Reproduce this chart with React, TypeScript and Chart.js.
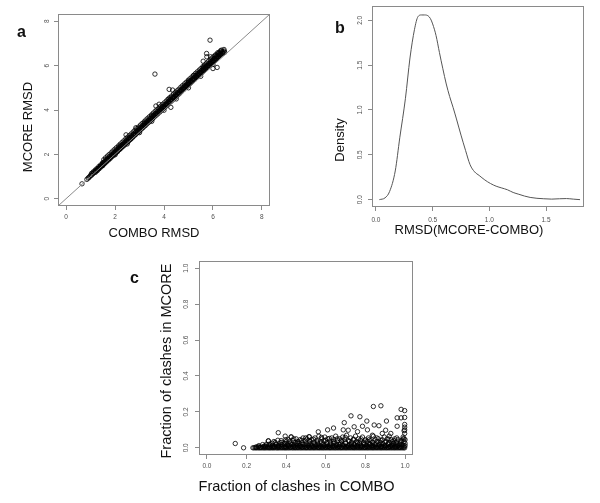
import React, { useEffect, useRef } from 'react';
import { Chart, registerables } from 'chart.js';
Chart.register(...registerables);

// ---------- Panel a: MCORE RMSD vs COMBO RMSD ----------
const aTicks = [0, 2, 4, 6, 8];
// [COMBO RMSD, MCORE RMSD]
const aBand: [number, number][] = [
  [0.65, 0.67], [0.85, 0.87], [0.9, 0.93], [0.93, 0.95], [0.97, 1.0], [1.0, 1.05], [1.04, 1.06], [1.08, 1.12],
  [1.1, 1.13], [1.14, 1.19], [1.17, 1.2], [1.2, 1.25], [1.23, 1.26], [1.26, 1.3], [1.3, 1.35], [1.33, 1.36],
  [1.36, 1.42], [1.4, 1.44], [1.43, 1.47], [1.46, 1.53], [1.5, 1.54], [1.53, 1.6], [1.56, 1.6], [1.6, 1.66],
  [1.63, 1.67], [1.66, 1.74], [1.7, 1.75], [1.73, 1.78], [1.76, 1.84], [1.8, 1.85], [1.83, 1.88], [1.86, 1.95],
  [1.9, 1.96], [1.93, 1.98], [1.96, 2.05], [2.0, 2.06], [2.03, 2.09], [2.06, 2.16], [2.1, 2.16], [2.13, 2.19],
  [2.16, 2.27], [2.2, 2.27], [2.23, 2.29], [2.26, 2.38], [2.3, 2.37], [2.33, 2.4], [2.36, 2.48], [2.4, 2.47],
  [2.43, 2.5], [2.46, 2.6], [2.5, 2.57], [2.53, 2.6], [2.56, 2.7], [2.6, 2.68], [2.63, 2.7], [2.66, 2.8],
  [2.7, 2.78], [2.73, 2.8], [2.76, 2.9], [2.8, 2.88], [2.83, 2.91], [2.86, 3.0], [2.9, 2.98], [2.93, 3.01],
  [2.96, 3.1], [3.0, 3.09], [3.03, 3.12], [3.06, 3.2], [3.1, 3.2], [3.13, 3.22], [3.16, 3.31], [3.2, 3.3],
  [3.23, 3.32], [3.26, 3.41], [3.3, 3.4], [3.33, 3.42], [3.36, 3.52], [3.4, 3.51], [3.43, 3.53], [3.46, 3.62],
  [3.5, 3.61], [3.53, 3.63], [3.56, 3.72], [3.6, 3.72], [3.63, 3.74], [3.66, 3.82], [3.7, 3.82], [3.73, 3.84],
  [3.76, 3.93], [3.8, 3.92], [3.83, 3.95], [3.86, 4.03], [3.9, 4.02], [3.93, 4.05], [3.96, 4.13], [4.0, 4.13],
  [4.03, 4.15], [4.06, 4.24], [4.1, 4.23], [4.13, 4.26], [4.16, 4.34], [4.2, 4.33], [4.23, 4.36], [4.26, 4.45],
  [4.3, 4.44], [4.33, 4.46], [4.36, 4.55], [4.4, 4.54], [4.43, 4.57], [4.46, 4.65], [4.5, 4.64], [4.53, 4.67],
  [4.56, 4.76], [4.6, 4.75], [4.63, 4.77], [4.66, 4.86], [4.7, 4.85], [4.73, 4.88], [4.76, 4.96], [4.8, 4.95],
  [4.83, 4.98], [4.86, 5.07], [4.9, 5.06], [4.93, 5.09], [4.96, 5.17], [5.0, 5.16], [5.03, 5.19], [5.06, 5.28],
  [5.1, 5.27], [5.13, 5.3], [5.16, 5.38], [5.2, 5.37], [5.23, 5.42], [5.26, 5.49], [5.3, 5.47], [5.33, 5.51],
  [5.36, 5.59], [5.4, 5.58], [5.43, 5.62], [5.46, 5.7], [5.5, 5.68], [5.53, 5.72], [5.56, 5.8], [5.6, 5.79],
  [5.63, 5.82], [5.66, 5.9], [5.7, 5.89], [5.73, 5.93], [5.76, 6.0], [5.8, 5.99], [5.83, 6.03], [5.86, 6.1],
  [5.9, 6.1], [5.93, 6.13], [5.96, 6.2], [6.0, 6.2], [6.03, 6.23], [6.06, 6.3], [6.1, 6.3], [6.13, 6.33],
  [6.16, 6.4], [6.2, 6.4], [6.23, 6.43], [6.26, 6.5], [6.3, 6.5], [6.33, 6.53], [6.38, 6.58], [6.42, 6.62],
  [6.46, 6.66],
  [1.5, 1.5], [2.0, 1.98], [2.5, 2.47], [3.0, 2.98], [3.5, 3.49], [4.0, 3.99], [4.5, 4.5], [5.0, 5.0],
  [5.5, 5.52], [6.0, 6.05], [1.5, 1.62], [2.2, 2.38], [3.2, 3.42], [3.5, 3.75], [4.2, 4.5], [5.0, 5.3],
  [5.6, 5.92], [6.25, 6.6], [6.35, 6.7], [6.1, 6.45], [6.4, 6.55], [6.48, 6.6],
];
// lower edge of the dense band
const aBandLow: [number, number][] = [
  [1.2, 1.19], [1.28, 1.27], [1.35, 1.35], [1.43, 1.43], [1.5, 1.5], [1.58, 1.59], [1.65, 1.66], [1.73, 1.74],
  [1.8, 1.81], [1.88, 1.9], [1.95, 1.97], [2.03, 2.05], [2.1, 2.12], [2.18, 2.21], [2.25, 2.28], [2.33, 2.36],
  [2.4, 2.43], [2.48, 2.52], [2.55, 2.59], [2.63, 2.67], [2.7, 2.74], [2.78, 2.83], [2.85, 2.9], [2.93, 2.98],
  [3.0, 3.05], [3.08, 3.14], [3.15, 3.21], [3.23, 3.29], [3.3, 3.37], [3.38, 3.45], [3.45, 3.52], [3.53, 3.6],
  [3.6, 3.68], [3.68, 3.76], [3.75, 3.83], [3.83, 3.91], [3.9, 3.99], [3.98, 4.07], [4.05, 4.14], [4.13, 4.22],
  [4.2, 4.3], [4.28, 4.38], [4.35, 4.45], [4.43, 4.53], [4.5, 4.61], [4.58, 4.69], [4.65, 4.76], [4.73, 4.85],
  [4.8, 4.92], [4.88, 5.0], [4.95, 5.07], [5.03, 5.16], [5.1, 5.23], [5.18, 5.31], [5.25, 5.38], [5.33, 5.47],
  [5.4, 5.54], [5.48, 5.62], [5.55, 5.69], [5.63, 5.78], [5.7, 5.85], [5.78, 5.93], [5.85, 6.0], [5.93, 6.09],
  [6.0, 6.16], [6.08, 6.24], [6.15, 6.31], [6.23, 6.4], [6.3, 6.47],
];
// middle of the dense band
const aBandMid: [number, number][] = [
  [1.04, 1.14], [1.11, 1.21], [1.19, 1.29], [1.26, 1.36], [1.34, 1.45], [1.41, 1.52], [1.49, 1.6], [1.56, 1.67],
  [1.64, 1.76], [1.71, 1.83], [1.79, 1.91], [1.86, 1.98], [1.94, 2.07], [2.01, 2.14], [2.09, 2.22], [2.16, 2.3],
  [2.24, 2.38], [2.31, 2.45], [2.39, 2.53], [2.46, 2.61], [2.54, 2.69], [2.61, 2.76], [2.69, 2.84], [2.76, 2.92],
  [2.84, 3.0], [2.91, 3.07], [2.99, 3.15], [3.06, 3.23], [3.14, 3.31], [3.21, 3.38], [3.29, 3.47], [3.36, 3.54],
  [3.44, 3.62], [3.51, 3.69], [3.59, 3.78], [3.66, 3.85], [3.74, 3.93], [3.81, 4.0], [3.89, 4.09], [3.96, 4.16],
  [4.04, 4.24], [4.11, 4.31], [4.19, 4.4], [4.26, 4.47], [4.34, 4.55], [4.41, 4.62], [4.49, 4.71], [4.56, 4.78],
  [4.64, 4.86], [4.71, 4.93], [4.79, 5.02], [4.86, 5.09], [4.94, 5.17], [5.01, 5.25], [5.09, 5.33], [5.16, 5.4],
  [5.24, 5.48], [5.31, 5.56], [5.39, 5.64], [5.46, 5.71], [5.54, 5.79], [5.61, 5.87], [5.69, 5.95], [5.76, 6.02],
  [5.84, 6.1], [5.91, 6.18], [5.99, 6.26], [6.06, 6.33], [6.14, 6.41], [6.21, 6.49], [6.29, 6.57], [6.36, 6.64],
];
// upper edge of the dense band
const aBandHigh: [number, number][] = [
  [1.54, 1.76], [1.61, 1.84], [1.69, 1.92], [1.76, 1.99], [1.84, 2.07], [1.91, 2.15], [1.99, 2.23], [2.06, 2.3],
  [2.14, 2.38], [2.21, 2.46], [2.29, 2.54], [2.36, 2.61], [2.44, 2.7], [2.51, 2.77], [2.59, 2.85], [2.66, 2.92],
  [2.74, 3.01], [2.81, 3.08], [2.89, 3.16], [2.96, 3.23], [3.04, 3.32], [3.11, 3.39], [3.19, 3.47], [3.26, 3.55],
  [3.34, 3.63], [3.41, 3.7], [3.49, 3.78], [3.56, 3.86], [3.64, 3.94], [3.71, 4.01], [3.79, 4.09], [3.86, 4.17],
  [3.94, 4.25], [4.01, 4.32], [4.09, 4.4], [4.16, 4.48], [4.24, 4.56], [4.31, 4.63], [4.39, 4.72], [4.46, 4.79],
  [4.54, 4.87], [4.61, 4.94], [4.69, 5.03], [4.76, 5.1], [4.84, 5.18], [4.91, 5.25], [4.99, 5.34], [5.06, 5.41],
  [5.14, 5.49], [5.21, 5.56], [5.29, 5.65], [5.36, 5.72], [5.44, 5.8], [5.51, 5.87], [5.59, 5.96], [5.66, 6.03],
  [5.74, 6.11], [5.81, 6.18], [5.89, 6.27], [5.96, 6.34], [6.04, 6.42], [6.11, 6.49], [6.19, 6.58],
];
const aOutliers: [number, number][] = [
  [5.88, 7.15], [3.63, 5.62], [5.74, 6.55], [5.9, 6.4], [6.17, 5.92], [6.0, 5.87], [6.31, 6.67],
  [6.45, 6.73], [4.21, 4.93], [4.35, 4.9], [4.28, 4.12], [3.67, 4.18], [3.8, 4.26], [2.45, 2.88],
  [2.85, 3.2], [5.6, 6.2], [5.75, 6.4], [5.22, 5.57], [6.22, 6.55],
];
const aLimits = [-0.33, 8.33];

// ---------- Panel b: density of RMSD(MCORE-COMBO) ----------
const bXTicks = [0, 0.5, 1.0, 1.5];
const bYTicks = [0, 0.5, 1.0, 1.5, 2.0];
const densityX = [0.03, 0.08, 0.12, 0.17, 0.21, 0.26, 0.30, 0.34, 0.37, 0.40, 0.43, 0.46, 0.48, 0.50, 0.53,
  0.56, 0.59, 0.62, 0.65, 0.68, 0.71, 0.75, 0.79, 0.83, 0.87, 0.91, 0.96, 1.01, 1.06, 1.11, 1.16, 1.21, 1.26,
  1.31, 1.36, 1.42, 1.48, 1.55, 1.62, 1.68, 1.74, 1.80];
const densityY = [0.00, 0.02, 0.09, 0.32, 0.69, 1.13, 1.58, 1.90, 2.04, 2.06, 2.06, 2.05, 2.02, 1.96, 1.83,
  1.64, 1.46, 1.29, 1.15, 1.03, 0.90, 0.72, 0.55, 0.39, 0.31, 0.27, 0.22, 0.18, 0.15, 0.13, 0.11, 0.08, 0.06,
  0.04, 0.025, 0.015, 0.01, 0.006, 0.01, 0.012, 0.006, 0.0];

// ---------- Panel c: fraction of clashes ----------
const cTicks = [0, 0.2, 0.4, 0.6, 0.8, 1.0];
const cZeroRowX = [0.185, 0.232, 0.245, 0.258, 0.27, 0.284, 0.296, 0.31, 0.322, 0.335, 0.35, 0.362, 0.376, 0.39,
  0.402, 0.415, 0.43, 0.443, 0.456, 0.47, 0.483, 0.497, 0.51, 0.523, 0.537, 0.55, 0.564, 0.577, 0.59, 0.604,
  0.618, 0.631, 0.645, 0.658, 0.672, 0.685, 0.699, 0.712, 0.726, 0.74, 0.753, 0.767, 0.78, 0.794, 0.808,
  0.821, 0.835, 0.848, 0.862, 0.876, 0.889, 0.903, 0.916, 0.93, 0.944, 0.957, 0.971, 0.985, 0.998];
const cZeroRowX2 = [0.238, 0.251, 0.264, 0.277, 0.29, 0.303, 0.316, 0.329, 0.342, 0.356, 0.369, 0.383, 0.396,
  0.409, 0.422, 0.436, 0.449, 0.463, 0.476, 0.49, 0.503, 0.517, 0.53, 0.543, 0.557, 0.57, 0.584, 0.597, 0.611,
  0.624, 0.638, 0.651, 0.665, 0.678, 0.692, 0.705, 0.719, 0.733, 0.746, 0.76, 0.773, 0.787, 0.801, 0.814,
  0.828, 0.841, 0.855, 0.869, 0.882, 0.896, 0.909, 0.923, 0.937, 0.95, 0.964, 0.978, 0.992];
// [COMBO, MCORE]
const cNearZero: [number, number][] = [
  [0.248, 0.005], [0.259, 0.007], [0.271, 0.004], [0.283, 0.006], [0.294, 0.008], [0.306, 0.005], [0.318, 0.007],
  [0.329, 0.004], [0.341, 0.006], [0.353, 0.008], [0.364, 0.005], [0.376, 0.007], [0.388, 0.004], [0.399, 0.006],
  [0.411, 0.008], [0.423, 0.005], [0.434, 0.007], [0.446, 0.004], [0.458, 0.006], [0.469, 0.008], [0.481, 0.005],
  [0.493, 0.007], [0.504, 0.004], [0.516, 0.006], [0.528, 0.008], [0.539, 0.005], [0.551, 0.007], [0.563, 0.004],
  [0.574, 0.006], [0.586, 0.008], [0.598, 0.005], [0.609, 0.007], [0.621, 0.004], [0.633, 0.006], [0.644, 0.008],
  [0.656, 0.005], [0.668, 0.007], [0.679, 0.004], [0.691, 0.006], [0.703, 0.008], [0.714, 0.005], [0.726, 0.007],
  [0.738, 0.004], [0.749, 0.006], [0.761, 0.008], [0.773, 0.005], [0.784, 0.007], [0.796, 0.004], [0.808, 0.006],
  [0.819, 0.008], [0.831, 0.005], [0.843, 0.007], [0.854, 0.004], [0.866, 0.006], [0.878, 0.008], [0.889, 0.005],
  [0.901, 0.007], [0.913, 0.004], [0.924, 0.006], [0.936, 0.008], [0.948, 0.005], [0.959, 0.007], [0.971, 0.004],
  [0.983, 0.006], [0.995, 0.008],
];
const cCluster: [number, number][] = [
  [0.29, 0.01], [0.3, 0.02], [0.31, 0.038], [0.32, 0.015], [0.33, 0.025], [0.335, 0.008], [0.345, 0.03],
  [0.35, 0.018], [0.36, 0.01], [0.37, 0.028], [0.375, 0.04], [0.38, 0.015], [0.39, 0.022], [0.395, 0.008],
  [0.4, 0.035], [0.405, 0.018], [0.41, 0.045], [0.415, 0.012], [0.42, 0.027], [0.425, 0.06], [0.43, 0.02],
  [0.435, 0.04], [0.44, 0.01], [0.445, 0.03], [0.45, 0.05], [0.455, 0.015], [0.46, 0.035], [0.465, 0.025],
  [0.47, 0.045], [0.475, 0.008], [0.48, 0.03], [0.485, 0.055], [0.49, 0.018], [0.495, 0.04], [0.5, 0.025],
  [0.505, 0.05], [0.51, 0.012], [0.515, 0.062], [0.52, 0.035], [0.525, 0.02], [0.53, 0.045], [0.535, 0.008],
  [0.54, 0.03], [0.545, 0.055], [0.55, 0.015], [0.555, 0.04], [0.56, 0.025], [0.565, 0.065], [0.57, 0.01],
  [0.575, 0.035], [0.58, 0.05], [0.585, 0.02], [0.59, 0.04], [0.595, 0.06], [0.6, 0.015], [0.605, 0.03],
  [0.61, 0.05], [0.615, 0.008], [0.62, 0.038], [0.625, 0.025], [0.63, 0.055], [0.635, 0.012], [0.64, 0.045],
  [0.645, 0.03], [0.65, 0.065], [0.655, 0.018], [0.66, 0.04], [0.665, 0.01], [0.67, 0.05], [0.675, 0.025],
  [0.68, 0.035], [0.685, 0.06], [0.69, 0.015], [0.695, 0.045], [0.7, 0.028], [0.705, 0.07], [0.71, 0.01],
  [0.715, 0.04], [0.72, 0.02], [0.725, 0.055], [0.73, 0.032], [0.735, 0.008], [0.74, 0.048], [0.745, 0.02],
  [0.75, 0.065], [0.755, 0.035], [0.76, 0.012], [0.765, 0.05], [0.77, 0.025], [0.775, 0.04], [0.78, 0.01],
  [0.785, 0.06], [0.79, 0.03], [0.795, 0.018], [0.8, 0.045], [0.805, 0.008], [0.81, 0.035], [0.815, 0.055],
  [0.82, 0.02], [0.825, 0.04], [0.83, 0.012], [0.835, 0.03], [0.84, 0.065], [0.845, 0.02], [0.85, 0.045],
  [0.855, 0.01], [0.86, 0.035], [0.865, 0.05], [0.87, 0.018], [0.875, 0.03], [0.88, 0.008], [0.885, 0.045],
  [0.89, 0.022], [0.895, 0.06], [0.9, 0.012], [0.905, 0.035], [0.91, 0.05], [0.915, 0.02], [0.92, 0.03],
  [0.925, 0.008], [0.93, 0.045], [0.935, 0.015], [0.94, 0.025], [0.945, 0.04], [0.95, 0.01], [0.955, 0.03],
  [0.96, 0.02], [0.965, 0.045], [0.97, 0.012], [0.975, 0.028], [0.98, 0.04], [0.985, 0.018], [0.99, 0.06],
  [0.995, 0.035], [1.0, 0.012], [1.0, 0.045], [1.0, 0.025], [0.998, 0.08], [0.998, 0.1], [0.998, 0.115],
  [0.998, 0.13],
];
const cClusterLow: [number, number][] = [
  [0.262, 0.012], [0.281, 0.018], [0.298, 0.01], [0.315, 0.02], [0.33, 0.013], [0.347, 0.022], [0.362, 0.012],
  [0.378, 0.018], [0.393, 0.025], [0.408, 0.012], [0.424, 0.02], [0.439, 0.015], [0.454, 0.024], [0.469, 0.012],
  [0.484, 0.02], [0.5, 0.014], [0.515, 0.025], [0.53, 0.012], [0.546, 0.02], [0.561, 0.015], [0.576, 0.026],
  [0.592, 0.012], [0.607, 0.022], [0.622, 0.015], [0.638, 0.025], [0.653, 0.012], [0.668, 0.02], [0.684, 0.016],
  [0.699, 0.026], [0.714, 0.012], [0.73, 0.02], [0.745, 0.015], [0.76, 0.025], [0.776, 0.012], [0.791, 0.022],
  [0.806, 0.015], [0.822, 0.024], [0.837, 0.012], [0.852, 0.02], [0.868, 0.015], [0.883, 0.025], [0.898, 0.012],
  [0.914, 0.022], [0.929, 0.015], [0.944, 0.024], [0.96, 0.012], [0.975, 0.02], [0.99, 0.015],
];
const cClusterMid: [number, number][] = [
  [0.338, 0.035], [0.358, 0.042], [0.378, 0.03], [0.398, 0.045], [0.418, 0.035], [0.438, 0.05], [0.458, 0.032],
  [0.478, 0.042], [0.498, 0.055], [0.518, 0.038], [0.538, 0.048], [0.558, 0.032], [0.578, 0.058], [0.598, 0.042],
  [0.618, 0.052], [0.638, 0.035], [0.658, 0.05], [0.678, 0.04], [0.698, 0.058], [0.718, 0.035], [0.738, 0.045],
  [0.758, 0.03], [0.778, 0.05], [0.798, 0.038], [0.818, 0.045], [0.838, 0.032], [0.858, 0.055], [0.878, 0.04],
  [0.898, 0.032], [0.918, 0.048], [0.938, 0.035], [0.958, 0.055], [0.978, 0.035], [0.995, 0.05],
];
const cOutliers: [number, number][] = [
  [0.143, 0.024], [0.36, 0.084], [0.31, 0.039], [0.395, 0.065], [0.425, 0.061], [0.562, 0.089], [0.609, 0.1],
  [0.639, 0.11], [0.693, 0.14], [0.727, 0.178], [0.772, 0.173], [0.84, 0.23], [0.878, 0.234], [0.807, 0.149],
  [0.906, 0.149], [0.96, 0.167], [0.98, 0.167], [0.98, 0.214], [0.998, 0.207], [0.998, 0.169], [0.995, 0.095],
  [0.844, 0.127], [0.868, 0.123], [0.785, 0.12], [0.81, 0.1], [0.743, 0.117], [0.688, 0.1], [0.713, 0.098],
  [0.902, 0.098], [0.928, 0.08], [0.96, 0.12], [0.948, 0.05], [0.99, 0.05], [0.885, 0.08], [0.835, 0.07],
  [0.517, 0.061], [0.76, 0.09], [0.92, 0.065],
];
const cLimits = [-0.04, 1.04];

// ---------- styling helpers ----------
const FONT = "'Liberation Sans', Arial, Helvetica, sans-serif";
const AXIS = '#8a8a8a';
const TICKTXT = '#505050';
const PT = 'rgba(0,0,0,0.9)';

type Lbl = { text: string; x: number; y: number; size: number; bold?: boolean; rot?: boolean };

const boxPlugin = {
  id: 'rbox',
  afterDatasetsDraw(chart: any) {
    const { ctx, chartArea: a } = chart;
    ctx.save();
    ctx.strokeStyle = AXIS;
    ctx.lineWidth = 1;
    ctx.strokeRect(Math.round(a.left) + 0.5, Math.round(a.top) + 0.5, Math.round(a.right - a.left) - 1, Math.round(a.bottom - a.top) - 1);
    ctx.restore();
  },
};

function textPlugin(items: Lbl[], ox: number, oy: number) {
  return {
    id: 'rtext',
    afterDraw(chart: any) {
      const ctx = chart.ctx;
      ctx.save();
      ctx.fillStyle = '#111';
      for (const it of items) {
        ctx.font = `${it.bold ? 'bold ' : ''}${it.size}px ${FONT}`;
        if (it.rot) {
          ctx.save();
          ctx.translate(it.x - ox, it.y - oy);
          ctx.rotate(-Math.PI / 2);
          ctx.textAlign = 'center';
          ctx.textBaseline = 'middle';
          ctx.fillText(it.text, 0, 0);
          ctx.restore();
        } else if (it.bold) {
          ctx.textAlign = 'left';
          ctx.textBaseline = 'alphabetic';
          ctx.fillText(it.text, it.x - ox, it.y - oy);
        } else {
          ctx.textAlign = 'center';
          ctx.textBaseline = 'middle';
          ctx.fillText(it.text, it.x - ox, it.y - oy);
        }
      }
      ctx.restore();
    },
  };
}

function xScale(min: number, max: number, ticks: number[], height: number, pad: number, fmt: (v: number) => string) {
  return {
    type: 'linear',
    position: 'bottom',
    min,
    max,
    afterBuildTicks: (s: any) => { s.ticks = ticks.map((v) => ({ value: v })); },
    afterFit: (s: any) => { s.height = height; s.paddingLeft = 0; s.paddingRight = 0; s.paddingTop = 0; s.paddingBottom = 0; },
    grid: { display: true, drawOnChartArea: false, drawTicks: true, tickLength: 4, color: AXIS, lineWidth: 1 },
    border: { display: false },
    ticks: { color: TICKTXT, font: { size: 6.5, family: FONT }, padding: pad, maxRotation: 0, minRotation: 0, autoSkip: false, callback: (v: any) => fmt(Number(v)) },
  };
}

function yScale(min: number, max: number, ticks: number[], width: number, pad: number, fmt: (v: number) => string) {
  return {
    type: 'linear',
    position: 'left',
    min,
    max,
    afterBuildTicks: (s: any) => { s.ticks = ticks.map((v) => ({ value: v })); },
    afterFit: (s: any) => { s.width = width; s.paddingLeft = 0; s.paddingRight = 0; s.paddingTop = 0; s.paddingBottom = 0; },
    grid: { display: true, drawOnChartArea: false, drawTicks: true, tickLength: 4, color: AXIS, lineWidth: 1 },
    border: { display: false },
    ticks: { color: TICKTXT, font: { size: 6.5, family: FONT }, padding: pad, minRotation: 90, maxRotation: 90, crossAlign: 'center', autoSkip: false, callback: (v: any) => fmt(Number(v)) },
  };
}

const scatterStyle = {
  pointRadius: 2.2,
  pointBorderWidth: 0.9,
  borderColor: PT,
  pointBorderColor: PT,
  backgroundColor: 'rgba(0,0,0,0)',
  pointBackgroundColor: 'rgba(0,0,0,0)',
  showLine: false,
};

const pairs = (arr: [number, number][]) => arr.map(([x, y]) => ({ x, y }));

function buildA(ox: number, oy: number) {
  return {
    type: 'scatter',
    data: {
      datasets: [
        {
          data: [{ x: aLimits[0], y: aLimits[0] }, { x: aLimits[1], y: aLimits[1] }],
          showLine: true, pointRadius: 0, borderColor: AXIS, borderWidth: 1,
        },
        { data: pairs(aBand), ...scatterStyle },
        { data: pairs(aBandLow), ...scatterStyle },
        { data: pairs(aBandMid), ...scatterStyle },
        { data: pairs(aBandHigh), ...scatterStyle },
        { data: pairs(aOutliers), ...scatterStyle },
      ],
    },
    options: {
      responsive: false, animation: false, events: [],
      layout: { padding: { left: 0, top: 14, right: 20, bottom: 0 } },
      plugins: { legend: { display: false }, tooltip: { enabled: false } },
      scales: {
        x: xScale(aLimits[0], aLimits[1], aTicks, 39, 3, (v) => String(v)),
        y: yScale(aLimits[0], aLimits[1], aTicks, 58, 5, (v) => String(v)),
      },
    },
    plugins: [boxPlugin, textPlugin([
      { text: 'a', x: 17, y: 37, size: 16, bold: true },
      { text: 'MCORE RMSD', x: 28, y: 127, size: 13, rot: true },
      { text: 'COMBO RMSD', x: 154, y: 233, size: 13 },
    ], ox, oy)],
  };
}

function buildB(ox: number, oy: number) {
  return {
    type: 'scatter',
    data: {
      datasets: [
        {
          data: densityX.map((x, i) => ({ x, y: densityY[i] })),
          showLine: true, pointRadius: 0, borderColor: '#555', borderWidth: 1, cubicInterpolationMode: 'monotone',
        },
      ],
    },
    options: {
      responsive: false, animation: false, events: [],
      layout: { padding: { left: 0, top: 6, right: 16, bottom: 0 } },
      plugins: { legend: { display: false }, tooltip: { enabled: false } },
      scales: {
        x: xScale(-0.035, 1.835, bXTicks, 38, 5, (v) => v.toFixed(1)),
        y: yScale(-0.082, 2.16, bYTicks, 72, 3.5, (v) => v.toFixed(1)),
      },
    },
    plugins: [boxPlugin, textPlugin([
      { text: 'b', x: 335, y: 33, size: 16, bold: true },
      { text: 'Density', x: 340, y: 140, size: 13, rot: true },
      { text: 'RMSD(MCORE-COMBO)', x: 469, y: 230, size: 13 },
    ], ox, oy)],
  };
}

function buildC(ox: number, oy: number) {
  return {
    type: 'scatter',
    data: {
      datasets: [
        { data: cZeroRowX.map((x) => ({ x, y: 0 })), ...scatterStyle },
        { data: cZeroRowX2.map((x) => ({ x, y: 0 })), ...scatterStyle },
        { data: pairs(cNearZero), ...scatterStyle },
        { data: pairs(cClusterLow), ...scatterStyle },
        { data: pairs(cCluster), ...scatterStyle },
        { data: pairs(cClusterMid), ...scatterStyle },
        { data: pairs(cOutliers), ...scatterStyle },
      ],
    },
    options: {
      responsive: false, animation: false, events: [],
      layout: { padding: { left: 0, top: 11, right: 37, bottom: 0 } },
      plugins: { legend: { display: false }, tooltip: { enabled: false } },
      scales: {
        x: xScale(cLimits[0], cLimits[1], cTicks, 48, 3.8, (v) => v.toFixed(1)),
        y: yScale(cLimits[0], cLimits[1], cTicks, 79, 3.8, (v) => v.toFixed(1)),
      },
    },
    plugins: [boxPlugin, textPlugin([
      { text: 'c', x: 130, y: 283, size: 16, bold: true },
      { text: 'Fraction of clashes in MCORE', x: 167, y: 361, size: 14.5, rot: true },
      { text: 'Fraction of clashes in COMBO', x: 296.5, y: 487, size: 14.5 },
    ], ox, oy)],
  };
}

function Panel({ left, top, width, height, build }: { left: number; top: number; width: number; height: number; build: (ox: number, oy: number) => any }) {
  const ref = useRef<HTMLCanvasElement>(null);
  useEffect(() => {
    const chart = new Chart(ref.current as HTMLCanvasElement, build(left, top) as any);
    return () => chart.destroy();
  }, []);
  return (
    <canvas
      ref={ref}
      width={width}
      height={height}
      style={{ position: 'absolute', left, top, width, height, display: 'block' }}
    />
  );
}

export default function App() {
  return (
    <div style={{ position: 'absolute', left: 0, top: 0, width: 600, height: 503, background: '#fff', overflow: 'hidden' }}>
      <Panel left={0} top={0} width={290} height={245} build={buildA} />
      <Panel left={300} top={0} width={300} height={245} build={buildB} />
      <Panel left={120} top={250} width={330} height={253} build={buildC} />
    </div>
  );
}
